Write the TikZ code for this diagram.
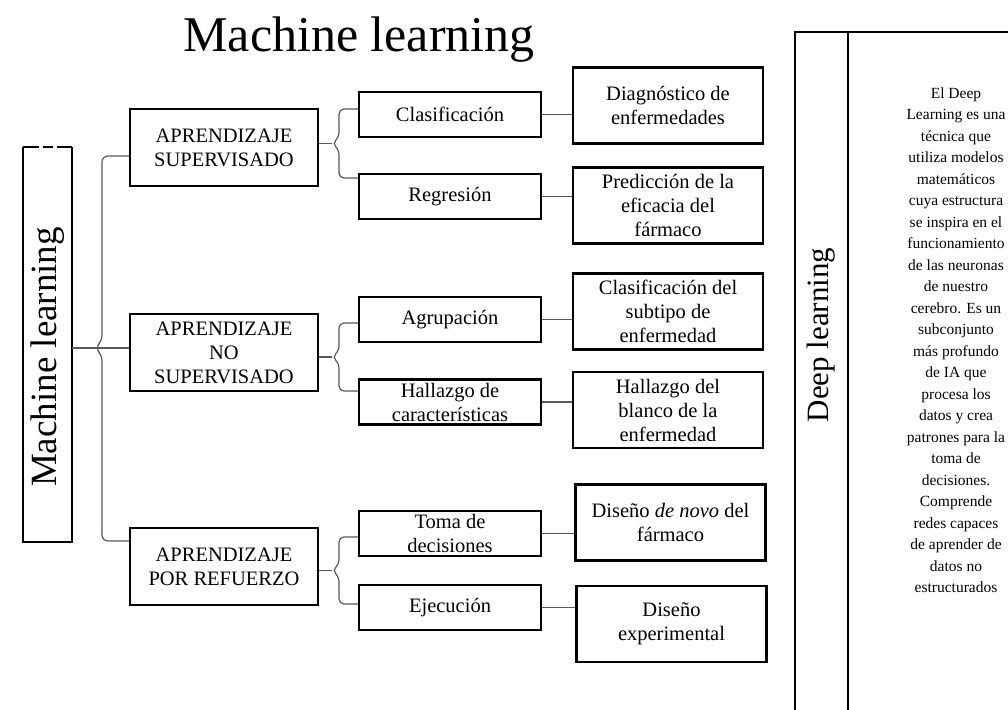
\documentclass[tikz,border=0pt]{standalone}
\usepackage{fontspec}
\setmainfont{Liberation Serif}
\usepackage{tikz}

\tikzset{
  box/.style={draw, line width=2.4pt, align=center, inner sep=0pt,
    font=\fontsize{20.5}{24}\selectfont},
  parentbox/.style={box, minimum width=188pt, minimum height=77pt},
  childbox/.style={box, minimum width=182pt, minimum height=45pt},
  leafbox/.style={box, minimum width=190pt, minimum height=76pt},
  conn/.style={draw=black!65, line width=1.2pt},
  panel/.style={line width=2.2pt},
}

\begin{document}
\begin{tikzpicture}[x=1pt, y=-1pt]
  \useasboundingbox (0,0) rectangle (1008,709);
  \clip (0,0) rectangle (1008,709);
  % Define nodes
  \node[font=\fontsize{50}{60}\selectfont, anchor=base] (title) at (359,52) {Machine learning};
  \node[minimum width=49pt, minimum height=395pt, inner sep=0pt] (mlbox) at (47.5,344.5) {};
  \node[rotate=90, font=\fontsize{37}{44}\selectfont] (mltext) at (48,357) {Machine learning};

  \node[parentbox] (sup)   at (224,147.5) {APRENDIZAJE\\SUPERVISADO};
  \node[parentbox] (nosup) at (224,352.5) {APRENDIZAJE\\NO\\SUPERVISADO};
  \node[parentbox] (refu)  at (224,566.5) {APRENDIZAJE\\POR REFUERZO};

  \node[childbox] (clas) at (450,114.5) {Clasificación};
  \node[childbox] (regr) at (450,196.5) {Regresión};
  \node[childbox] (agru) at (450,319.5) {Agrupación};
  \node[childbox] (hall) at (450,402)   {Hallazgo de\\características};
  \node[childbox] (toma) at (450,533.5) {Toma de\\decisiones};
  \node[childbox] (ejec) at (450,607.5) {Ejecución};

  \node[leafbox] (diag) at (668,105.5) {Diagnóstico de\\enfermedades};
  \node[leafbox] (pred) at (668,205.5) {Predicción de la\\eficacia del\\fármaco};
  \node[leafbox] (subt) at (668,311.5) {Clasificación del\\subtipo de\\enfermedad};
  \node[leafbox] (blan) at (668,410)   {Hallazgo del\\blanco de la\\enfermedad};
  \node[leafbox] (novo) at (670.5,522.5) {Diseño \textit{de novo} del\\fármaco};
  \node[leafbox] (expe) at (671.5,624) {Diseño\\experimental};

  \node[rotate=90, font=\fontsize{31}{37}\selectfont] (dltext) at (821,335) {Deep learning};
  \node[align=center, font=\fontsize{15.5}{21.5}\selectfont] (dldesc) at (956,340)
    {El Deep\\Learning es una\\técnica que\\utiliza modelos\\matemáticos\\cuya estructura\\se inspira en el\\funcionamiento\\de las neuronas\\de nuestro\\cerebro. Es un\\subconjunto\\más profundo\\de IA que\\procesa los\\datos y crea\\patrones para la\\toma de\\decisiones.\\Comprende\\redes capaces\\de aprender de\\datos no\\estructurados};

  % Frames
  \draw[line width=2.4pt] (mlbox.north west) -- (mlbox.south west) -- (mlbox.south east) -- (mlbox.north east);
  \draw[line width=2.4pt, dash pattern=on 16pt off 4pt on 10pt off 4pt on 15pt] (mlbox.north west) -- (mlbox.north east);
  \draw[panel] (1030,32) -- (795,32) -- (795,730);
  \draw[line width=1.4pt] (848,32) -- (848,730);

  % Connect nodes
  \draw[conn] (mlbox.east |- 0,348) -- (nosup.west |- 0,348);
  \draw[conn, rounded corners=6pt] (sup.west |- 0,156) -| (102,341) -- (95,348) -- (102,355) |- (refu.west |- 0,541);
  \foreach \p/\a/\b/\t/\m/\u in {sup/clas/regr/109/143.5/178, nosup/agru/hall/323/357/391, refu/toma/ejec/537/570.5/604}
  {
    \draw[conn] (\p.east |- 0,\m) -- (332,\m);
    \draw[conn, rounded corners=5pt] (\a.west |- 0,\t) -| (339,\m-6) -- (332,\m) -- (339,\m+6) |- (\b.west |- 0,\u);
  }
  \foreach \a/\b in {clas/diag, regr/pred, agru/subt, hall/blan, toma/novo, ejec/expe}
    \draw[conn] (\a.east) -- (\a.east -| \b.west);
\end{tikzpicture}
\end{document}
